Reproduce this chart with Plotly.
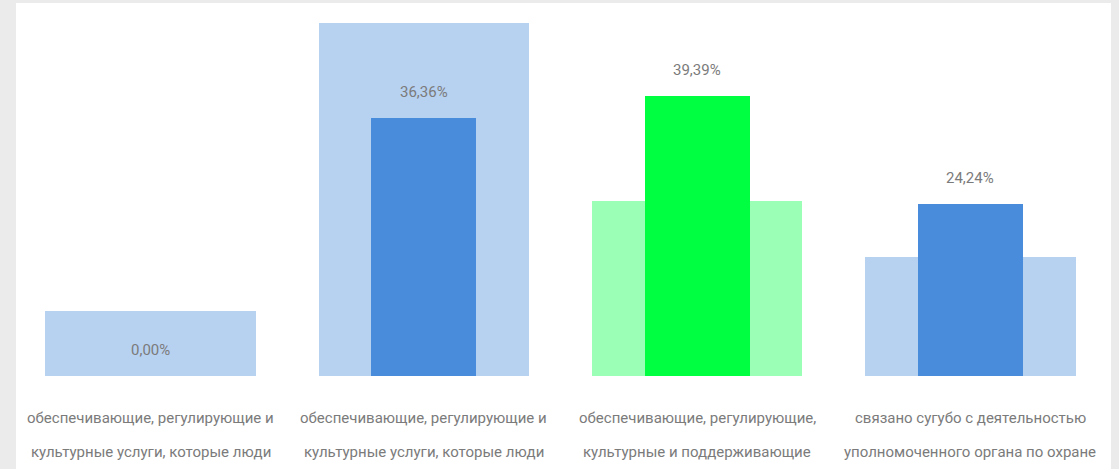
import plotly.graph_objects as go

categories = ["cat1", "cat2", "cat3", "cat4"]
label_line1 = [
    "обеспечивающие, регулирующие и",
    "обеспечивающие, регулирующие и",
    "обеспечивающие, регулирующие,",
    "связано сугубо с деятельностью",
]
label_line2 = [
    "культурные услуги, которые люди",
    "культурные услуги, которые люди",
    "культурные и поддерживающие",
    "уполномоченного органа по охране",
]
background_values = [9.1, 49.7, 24.6, 16.8]
main_values = [0.0, 36.36, 39.39, 24.24]
value_labels = ["0,00%", "36,36%", "39,39%", "24,24%"]

light_colors = ["#b7d1f1", "#b7d1f1", "#9bffb5", "#b7d1f1"]
dark_colors = ["#4a8cdc", "#4a8cdc", "#00ff41", "#4a8cdc"]

FONT = "Roboto, sans-serif"
TEXT_COLOR = "#7b7b7b"

x = list(range(len(categories)))

fig = go.Figure()
fig.add_trace(go.Bar(x=x, y=background_values, width=0.77,
                     marker=dict(color=light_colors, line=dict(width=0)),
                     hoverinfo="skip", showlegend=False))
fig.add_trace(go.Bar(x=x, y=main_values, width=0.385,
                     marker=dict(color=dark_colors, line=dict(width=0)),
                     showlegend=False))

annotations = []
for i, (v, t) in enumerate(zip(main_values, value_labels)):
    annotations.append(dict(x=i, y=v, xref="x", yref="y", text=t, showarrow=False,
                            yanchor="middle", yshift=26,
                            font=dict(family=FONT, size=15, color=TEXT_COLOR)))
for i, (l1, l2) in enumerate(zip(label_line1, label_line2)):
    annotations.append(dict(x=i, y=0, xref="x", yref="y", text=l1, showarrow=False,
                            yanchor="middle", yshift=-42,
                            font=dict(family=FONT, size=15, color=TEXT_COLOR)))
    annotations.append(dict(x=i, y=0, xref="x", yref="y", text=l2, showarrow=False,
                            yanchor="middle", yshift=-76,
                            font=dict(family=FONT, size=15, color=TEXT_COLOR)))

# plot area: x 14..1107, y 3..376
W, H = 1119, 469
ml, mr, mt, mb = 14, 12, 3, 93
pw = W - ml - mr
ph = H - mt - mb

fig.update_layout(
    width=W, height=H,
    margin=dict(l=ml, r=mr, t=mt, b=mb, pad=0),
    paper_bgcolor="#ebebeb",
    plot_bgcolor="rgba(0,0,0,0)",
    barmode="overlay",
    bargap=0,
    xaxis=dict(range=[-0.5, 3.5], showticklabels=False, showgrid=False,
               zeroline=False, showline=False, ticks=""),
    yaxis=dict(range=[0, 52.5], showticklabels=False, showgrid=False,
               zeroline=False, showline=False, ticks=""),
    shapes=[dict(type="rect", xref="paper", yref="paper", layer="below",
                 x0=(16 - ml) / pw, x1=(1111 - ml) / pw,
                 y0=-(H - (mt + ph)) / ph - 0.01, y1=1,
                 fillcolor="white", line=dict(width=0))],
    annotations=annotations,
)

fig.write_html("out.html")
